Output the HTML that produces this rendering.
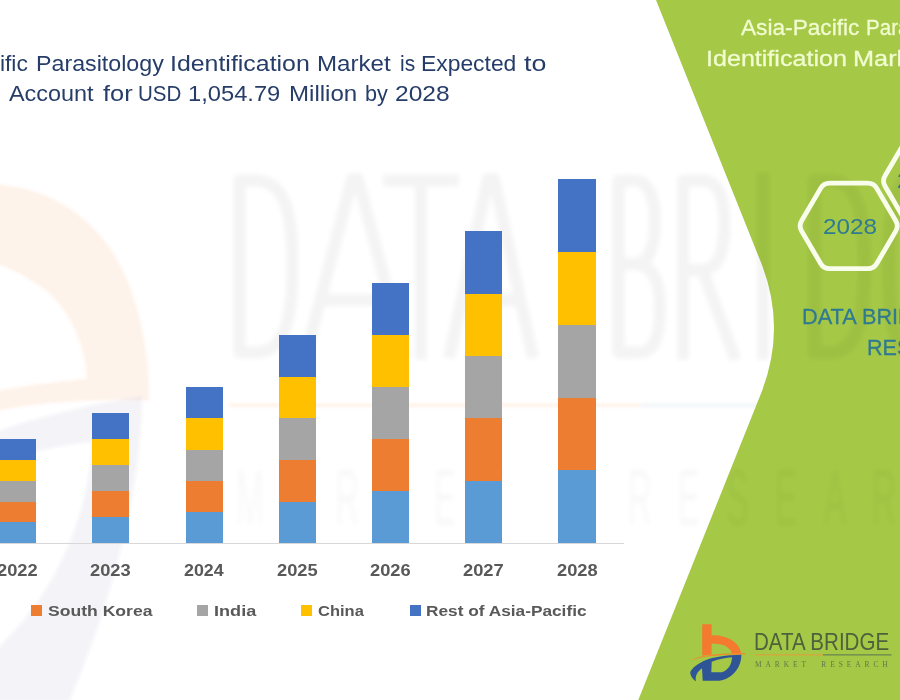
<!DOCTYPE html>
<html>
<head>
<meta charset="utf-8">
<title>Asia-Pacific Parasitology Identification Market</title>
<style>
  html, body { margin: 0; padding: 0; }
  body { width: 900px; height: 700px; overflow: hidden; background: #ffffff; position: relative;
         font-family: "Liberation Sans", sans-serif; }
  .abs { position: absolute; }
  .w { position:absolute; white-space:pre; line-height:1; transform-origin:0 0; }
  .bar { position: absolute; width: 37.4px; }
  .bar div { width: 100%; }
  .c1 { background: #5b9bd5; } .c2 { background: #ed7d31; } .c3 { background: #a5a5a5; }
  .c4 { background: #ffc000; } .c5 { background: #4472c4; }
  .sq { position: absolute; top: 605px; width: 11px; height: 11px; }
</style>
</head>
<body>

<!-- faint watermark: logo icon part (below green) -->
<svg class="abs" style="left:0;top:0" width="900" height="700" viewBox="0 0 900 700">
  <defs><filter id="bl" x="-5%" y="-5%" width="110%" height="110%"><feGaussianBlur stdDeviation="1.6"/></filter><filter id="bl2" x="-5%" y="-5%" width="110%" height="110%"><feGaussianBlur stdDeviation="2.4"/></filter></defs>
  <g filter="url(#bl)">
    <path d="M-10,184 C 60,186 120,230 140,320 C 147,350 149,375 149,388 L149,401 C 100,398 40,402 -10,412 L-10,392 C 30,385 60,381 87,379 C 85,340 65,300 35,283 C 20,273 5,266 -10,262 Z" fill="#f26522" opacity="0.082"/>
    <path fill-rule="evenodd" d="M-10,434 C 40,416 100,402 142,396 C 142,450 130,560 69,702 L-10,702 Z M-10,464 C 30,452 60,445 92,442 C 90,500 65,590 -10,655 Z" fill="#445a8c" opacity="0.06"/>
    <rect x="229" y="403.6" width="411" height="3.2" fill="#f26b21" opacity="0.10"/>
    <rect x="640" y="403.6" width="200" height="3.2" fill="#2f5597" opacity="0.06"/>
  </g>
</svg>

<!-- green panel -->
<svg class="abs" style="left:0;top:0" width="900" height="700" viewBox="0 0 900 700">
  <path d="M656,0 L761,262.5 Q787,328 761,393.5 L638.3,700 L900,700 L900,0 Z" fill="#a5c846"/>
</svg>

<!-- faint watermark letters (show through green slightly) -->
<svg class="abs" style="left:0;top:0" width="900" height="700" viewBox="0 0 900 700">
  <g filter="url(#bl2)" fill="none" stroke="#000" stroke-width="12" opacity="0.046" stroke-linejoin="round">
    <path d="M239.5,180.5 L239.5,352.5 L255,352.5 C 285,352.5 292.5,320 292.5,266 C 292.5,212 285,180.5 255,180.5 Z"/>
    <path d="M305,358 L352,179 L358,179 L405,358 M322,300 L388,300"/>
    <path d="M383,180.5 L459,180.5 M421,180.5 L421,360"/>
    <path d="M449,358 L488,179 L494,179 L533,358 M463,300 L519,300"/>
    <path transform="translate(4,0)" d="M614.5,264 L630,264 C 648,264 656,280 656,308 C 656,330 652,352.5 635,352.5 L614.5,352.5 L614.5,180.5 L630,180.5 C 644,180.5 651,196 651,222 C 651,246 645,264 630,264"/>
    <path transform="translate(2.5,0)" d="M680.5,360 L680.5,180.5 L700,180.5 C 716,180.5 722,198 722,225 C 722,255 714,270 698,270 L680.5,270 M700,270 L733,360"/>
    <path d="M763,173 L763,360"/>
    <path transform="translate(12,0)" d="M802.5,180.5 L802.5,352.5 L818,352.5 C 845,352.5 852.5,320 852.5,266 C 852.5,212 845,180.5 818,180.5 Z"/>
    <path transform="translate(12,0)" d="M930,200 C 920,185 905,180.5 897,180.5 C 880,180.5 877,230 877,266 C 877,310 880,352.5 900,352.5"/>
  </g>
  <g filter="url(#bl2)" fill="#000" opacity="0.03">
    <text transform="translate(250.0,525) scale(0.42,1)" text-anchor="middle" font-size="80" font-family="Liberation Sans, sans-serif">M</text>
    <text transform="translate(298.8,525) scale(0.42,1)" text-anchor="middle" font-size="80" font-family="Liberation Sans, sans-serif">A</text>
    <text transform="translate(347.5,525) scale(0.42,1)" text-anchor="middle" font-size="80" font-family="Liberation Sans, sans-serif">R</text>
    <text transform="translate(396.2,525) scale(0.42,1)" text-anchor="middle" font-size="80" font-family="Liberation Sans, sans-serif">K</text>
    <text transform="translate(445.0,525) scale(0.42,1)" text-anchor="middle" font-size="80" font-family="Liberation Sans, sans-serif">E</text>
    <text transform="translate(493.8,525) scale(0.42,1)" text-anchor="middle" font-size="80" font-family="Liberation Sans, sans-serif">T</text>
    <text transform="translate(640.0,525) scale(0.42,1)" text-anchor="middle" font-size="80" font-family="Liberation Sans, sans-serif">R</text>
    <text transform="translate(688.8,525) scale(0.42,1)" text-anchor="middle" font-size="80" font-family="Liberation Sans, sans-serif">E</text>
    <text transform="translate(737.5,525) scale(0.42,1)" text-anchor="middle" font-size="80" font-family="Liberation Sans, sans-serif">S</text>
    <text transform="translate(786.2,525) scale(0.42,1)" text-anchor="middle" font-size="80" font-family="Liberation Sans, sans-serif">E</text>
    <text transform="translate(835.0,525) scale(0.42,1)" text-anchor="middle" font-size="80" font-family="Liberation Sans, sans-serif">A</text>
    <text transform="translate(883.8,525) scale(0.42,1)" text-anchor="middle" font-size="80" font-family="Liberation Sans, sans-serif">R</text>
    <text transform="translate(932.5,525) scale(0.42,1)" text-anchor="middle" font-size="80" font-family="Liberation Sans, sans-serif">C</text>
    <text transform="translate(981.2,525) scale(0.42,1)" text-anchor="middle" font-size="80" font-family="Liberation Sans, sans-serif">H</text>
  </g>
</svg>

<!-- title -->
<span class="w" style="left:36.29px;top:51.62px;font-size:22.9px;color:#263d69;transform:scaleX(1.0142)">Parasitology</span>
<span class="w" style="left:-91.73px;top:51.62px;font-size:22.9px;color:#263d69;transform:scaleX(1.0000)">Asia-Pacific</span>
<span class="w" style="left:169.83px;top:51.62px;font-size:22.9px;color:#263d69;transform:scaleX(1.0875)">Identification</span>
<span class="w" style="left:317.15px;top:51.62px;font-size:22.9px;color:#263d69;transform:scaleX(1.0532)">Market</span>
<span class="w" style="left:399.69px;top:51.62px;font-size:22.9px;color:#263d69;transform:scaleX(0.9148)">is</span>
<span class="w" style="left:421.40px;top:51.62px;font-size:22.9px;color:#263d69;transform:scaleX(0.9988)">Expected</span>
<span class="w" style="left:523.50px;top:51.62px;font-size:22.9px;color:#263d69;transform:scaleX(1.1710)">to</span>
<span class="w" style="left:9.30px;top:82.02px;font-size:22.9px;color:#263d69;transform:scaleX(1.0222)">Account</span>
<span class="w" style="left:103.00px;top:82.02px;font-size:22.9px;color:#263d69;transform:scaleX(1.1074)">for</span>
<span class="w" style="left:138.10px;top:82.02px;font-size:22.9px;color:#263d69;transform:scaleX(0.8975)">USD</span>
<span class="w" style="left:188.46px;top:82.02px;font-size:22.9px;color:#263d69;transform:scaleX(1.0358)">1,054.79</span>
<span class="w" style="left:289.25px;top:82.02px;font-size:22.9px;color:#263d69;transform:scaleX(1.0516)">Million</span>
<span class="w" style="left:364.66px;top:82.02px;font-size:22.9px;color:#263d69;transform:scaleX(0.9439)">by</span>
<span class="w" style="left:394.73px;top:82.02px;font-size:22.9px;color:#263d69;transform:scaleX(1.0733)">2028</span>

<!-- axis -->
<div class="abs" style="left:0; top:543.1px; width:623.8px; height:1.3px; background:#d8d8d8;"></div>

<!-- bars -->
<div class="bar" style="left:-1.4px; top:439.3px;"><div class="c5" style="height:20.8px"></div><div class="c4" style="height:20.8px"></div><div class="c3" style="height:20.8px"></div><div class="c2" style="height:20.8px"></div><div class="c1" style="height:20.8px"></div></div>
<div class="bar" style="left:91.9px; top:413.3px;"><div class="c5" style="height:26px"></div><div class="c4" style="height:26px"></div><div class="c3" style="height:26px"></div><div class="c2" style="height:26px"></div><div class="c1" style="height:26px"></div></div>
<div class="bar" style="left:185.6px; top:387.3px;"><div class="c5" style="height:31.2px"></div><div class="c4" style="height:31.2px"></div><div class="c3" style="height:31.2px"></div><div class="c2" style="height:31.2px"></div><div class="c1" style="height:31.2px"></div></div>
<div class="bar" style="left:278.5px; top:335.3px;"><div class="c5" style="height:41.6px"></div><div class="c4" style="height:41.6px"></div><div class="c3" style="height:41.6px"></div><div class="c2" style="height:41.6px"></div><div class="c1" style="height:41.6px"></div></div>
<div class="bar" style="left:371.6px; top:283.3px;"><div class="c5" style="height:52px"></div><div class="c4" style="height:52px"></div><div class="c3" style="height:52px"></div><div class="c2" style="height:52px"></div><div class="c1" style="height:52px"></div></div>
<div class="bar" style="left:464.8px; top:231.3px;"><div class="c5" style="height:62.4px"></div><div class="c4" style="height:62.4px"></div><div class="c3" style="height:62.4px"></div><div class="c2" style="height:62.4px"></div><div class="c1" style="height:62.4px"></div></div>
<div class="bar" style="left:558.2px; top:179.3px;"><div class="c5" style="height:72.8px"></div><div class="c4" style="height:72.8px"></div><div class="c3" style="height:72.8px"></div><div class="c2" style="height:72.8px"></div><div class="c1" style="height:72.8px"></div></div>

<!-- year labels -->
<span class="w" style="left:-2.85px;top:563.09px;font-size:16.9px;font-weight:bold;color:#595959;transform:scaleX(1.0839)">2022</span>
<span class="w" style="left:90.41px;top:563.09px;font-size:16.9px;font-weight:bold;color:#595959;transform:scaleX(1.0839)">2023</span>
<span class="w" style="left:183.67px;top:563.09px;font-size:16.9px;font-weight:bold;color:#595959;transform:scaleX(1.0555)">2024</span>
<span class="w" style="left:276.93px;top:563.09px;font-size:16.9px;font-weight:bold;color:#595959;transform:scaleX(1.0839)">2025</span>
<span class="w" style="left:370.19px;top:563.09px;font-size:16.9px;font-weight:bold;color:#595959;transform:scaleX(1.0839)">2026</span>
<span class="w" style="left:463.45px;top:563.09px;font-size:16.9px;font-weight:bold;color:#595959;transform:scaleX(1.0839)">2027</span>
<span class="w" style="left:556.71px;top:563.09px;font-size:16.9px;font-weight:bold;color:#595959;transform:scaleX(1.0839)">2028</span>

<!-- legend -->
<span class="w" style="left:48.30px;top:602.78px;font-size:15.5px;font-weight:bold;color:#595959;transform:scaleX(1.1338)">South Korea</span>
<span class="w" style="left:213.83px;top:602.78px;font-size:15.5px;font-weight:bold;color:#595959;transform:scaleX(1.1674)">India</span>
<span class="w" style="left:318.30px;top:602.78px;font-size:15.5px;font-weight:bold;color:#595959;transform:scaleX(1.0636)">China</span>
<span class="w" style="left:425.59px;top:602.78px;font-size:15.5px;font-weight:bold;color:#595959;transform:scaleX(1.1139)">Rest of Asia-Pacific</span>
<div class="sq c2" style="left:31px;"></div>
<div class="sq c3" style="left:196.7px;"></div>
<div class="sq c4" style="left:300.7px;"></div>
<div class="sq c5" style="left:409.5px;"></div>

<!-- right panel text -->
<span class="w" style="left:740.90px;top:17.34px;font-size:22.4px;-webkit-text-stroke:0.3px #f1fcd0;color:#f1fcd0;transform:scaleX(1.0123)">Asia-Pacific</span>
<span class="w" style="left:866.08px;top:17.34px;font-size:22.4px;-webkit-text-stroke:0.3px #f1fcd0;color:#f1fcd0;transform:scaleX(0.9200)">Parasitology</span>
<span class="w" style="left:706.36px;top:48.44px;font-size:22.4px;-webkit-text-stroke:0.3px #f1fcd0;color:#f1fcd0;transform:scaleX(1.1205)">Identification</span>
<span class="w" style="left:852.97px;top:48.44px;font-size:22.4px;-webkit-text-stroke:0.3px #f1fcd0;color:#f1fcd0;transform:scaleX(1.1300)">Market</span>

<span class="w" style="left:801.63px;top:305.75px;font-size:22.5px;-webkit-text-stroke:0.3px #2f7a91;color:#2f7a91;transform:scaleX(0.9666)">DATA</span>
<span class="w" style="left:861.84px;top:305.75px;font-size:22.5px;-webkit-text-stroke:0.3px #2f7a91;color:#2f7a91;transform:scaleX(0.9600)">BRIDGE MARKET</span>
<span class="w" style="left:867.04px;top:336.95px;font-size:22.5px;-webkit-text-stroke:0.3px #2f7a91;color:#2f7a91;transform:scaleX(0.9600)">RESEARCH</span>
<span class="w" style="left:823.33px;top:215.08px;font-size:22.7px;color:#2f7a91;transform:scaleX(1.0685)">2028</span>
<span class="w" style="left:896.56px;top:169.08px;font-size:22.7px;color:#2f7a91;transform:scaleX(1.0400)">2021</span>
<!-- hexagons -->
<svg class="abs" style="left:780px;top:130px" width="120" height="160" viewBox="780 130 120 160">
  <g fill="none" stroke="#f8fdec" stroke-width="4.8" stroke-linejoin="round">
    <path d="M801.63,231.13 Q798.60,225.95 801.63,220.77 L820.62,188.38 Q823.65,183.20 829.65,183.20 L867.75,183.20 Q873.75,183.20 876.78,188.38 L895.77,220.77 Q898.80,225.95 895.77,231.13 L876.78,263.52 Q873.75,268.70 867.75,268.70 L829.65,268.70 Q823.65,268.70 820.62,263.52 Z"/>
    <path d="M885.03,186.18 Q882.00,181.00 885.03,175.82 L904.02,143.43 Q907.05,138.25 913.05,138.25 L951.15,138.25 Q957.15,138.25 960.18,143.43 L979.17,175.82 Q982.20,181.00 979.17,186.18 L960.18,218.57 Q957.15,223.75 951.15,223.75 L913.05,223.75 Q907.05,223.75 904.02,218.57 Z"/>
  </g>
</svg>

<!-- logo -->
<svg class="abs" style="left:680px;top:615px" width="220" height="85" viewBox="680 615 220 85">
  <!-- orange b -->
  <path d="M702.2,624.3 L711.6,624.3 L711.6,635.2 C 728,634.6 738.6,643 740.8,651.5 L740.8,654.4 L732.3,654.4 C 730.6,647.6 724,643.6 711.6,643.6 L711.6,654.6 L702.2,655.8 Z" fill="#f47a30"/>
  <!-- orange swoosh -->
  <path d="M690,660.9 C 699,655.5 712,653.6 745.5,653 C 745.5,653.6 745.5,653.9 745.3,654.2 C 713,655 700,657 690,660.9 Z" fill="#f08a2c"/>
  <!-- blue D -->
  <path fill-rule="evenodd" d="M741.3,654.7 C 726,655 712.7,657.3 706,660 C 698,663.3 692,668 690.3,672 C 690,675.3 692.7,679.3 696,681.3 C 695,676.7 696.7,672 702,668.3 L702.7,680.8 L719.3,680.7 C 729.3,679.3 736.7,672.7 740,663.3 C 741,660 741.5,656.7 741.3,654.7 Z M711.7,661.7 C 718,659.3 726,657.7 732,657.3 C 732,663.3 728.7,670 722,672.3 L711.3,672.3 Z" fill="#2f5597"/>
  <!-- underline -->
  <rect x="754.6" y="654.3" width="68.4" height="1.1" fill="#dfa03a"/>
  <rect x="823" y="654.0" width="68.5" height="1.6" fill="#74934e"/>
</svg>
<span class="w" style="left:753.73px;top:631.24px;font-size:23.7px;color:#4f603c;transform:scaleX(0.8676)">DATA BRIDGE</span>
<div class="w" id="g2" style="left:755px; top:660.7px; font-size:7.4px; letter-spacing:3.95px; color:#64784a; font-family:'Liberation Serif',serif;">MARKET  RESEARCH</div>

</body>
</html>
